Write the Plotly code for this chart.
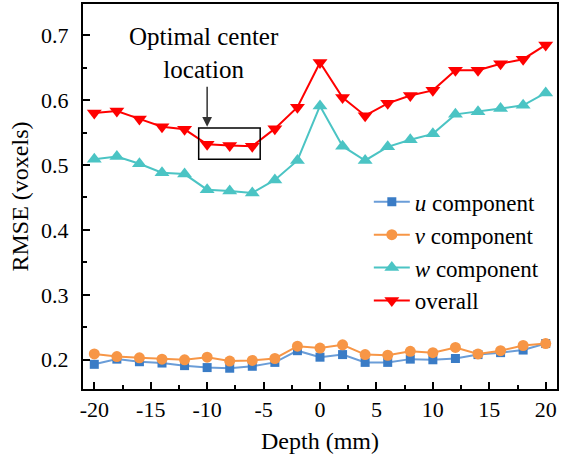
import plotly.graph_objects as go

depth = [-20, -18, -16, -14, -12, -10, -8, -6, -4, -2, 0, 2, 4, 6, 8, 10, 12, 14, 16, 18, 20]
u_comp = [0.193, 0.201, 0.197, 0.195, 0.191, 0.188, 0.187, 0.190, 0.196, 0.214, 0.204,
          0.208, 0.196, 0.196, 0.201, 0.200, 0.202, 0.208, 0.211, 0.215, 0.225]
v_comp = [0.209, 0.205, 0.203, 0.201, 0.200, 0.204, 0.198, 0.199, 0.202, 0.221, 0.218,
          0.223, 0.208, 0.207, 0.213, 0.211, 0.219, 0.209, 0.214, 0.222, 0.225]
w_comp = [0.509, 0.513, 0.502, 0.488, 0.486, 0.462, 0.460, 0.457, 0.477, 0.507, 0.591,
          0.529, 0.507, 0.528, 0.539, 0.548, 0.578, 0.582, 0.587, 0.592, 0.611]
overall = [0.580, 0.583, 0.571, 0.559, 0.555, 0.532, 0.530, 0.529, 0.556, 0.589, 0.658,
           0.604, 0.576, 0.595, 0.607, 0.615, 0.646, 0.646, 0.656, 0.663, 0.685]

FONT = "'Liberation Serif', 'Times New Roman', 'DejaVu Serif', serif"

fig = go.Figure()
fig.add_trace(go.Scatter(x=depth, y=u_comp, mode="lines+markers", name="<i>u</i> component",
                         line=dict(color="#6A9DD8", width=2),
                         marker=dict(symbol="square", size=9, color="#3A7CC6")))
fig.add_trace(go.Scatter(x=depth, y=v_comp, mode="lines+markers", name="<i>v</i> component",
                         line=dict(color="#F79646", width=2),
                         marker=dict(symbol="circle", size=11, color="#F79646")))
fig.add_trace(go.Scatter(x=depth, y=w_comp, mode="lines+markers", name="<i>w</i> component",
                         line=dict(color="#4BC4C4", width=2),
                         marker=dict(symbol="triangle-up", size=13, color="#4BC4C4")))
fig.add_trace(go.Scatter(x=depth, y=overall, mode="lines+markers", name="overall",
                         line=dict(color="#FF0000", width=2),
                         marker=dict(symbol="triangle-down", size=13, color="#FF0000")))

# rectangle around optimal region
fig.add_shape(type="rect", xref="x", yref="y", x0=-10.75, x1=-5.3, y0=0.509, y1=0.557,
              line=dict(color="black", width=1.5), fillcolor="rgba(0,0,0,0)")

fig.add_annotation(x=-10.3, y=0.672, xref="x", yref="y", text="Optimal center<br>location",
                   showarrow=False, font=dict(family=FONT, size=25, color="black"))
fig.add_annotation(x=-10, y=0.559, xref="x", yref="y", ax=-10, ay=0.623, axref="x", ayref="y",
                   text="", showarrow=True, arrowhead=2, arrowsize=1.3, arrowwidth=1.5,
                   arrowcolor="#333333")

fig.update_xaxes(range=[-21, 21], tickvals=[-20, -15, -10, -5, 0, 5, 10, 15, 20],
                 ticktext=["-20", "-15", "-10", "-5", "0", "5", "10", "15", "20"],
                 ticks="inside", ticklen=7, tickwidth=2, tickcolor="black",
                 minor=dict(dtick=2.5, tick0=0, ticks="inside", ticklen=4, tickwidth=2, tickcolor="black"),
                 showline=True, linewidth=2, linecolor="black", mirror=True,
                 showgrid=False, zeroline=False,
                 tickfont=dict(family=FONT, size=22, color="black"),
                 title=dict(text="Depth (mm)", font=dict(family=FONT, size=24, color="black"), standoff=11))
fig.update_yaxes(range=[0.155, 0.748], tickvals=[0.2, 0.3, 0.4, 0.5, 0.6, 0.7],
                 ticktext=["0.2", "0.3", "0.4", "0.5", "0.6", "0.7"],
                 ticks="inside", ticklen=7, tickwidth=2, tickcolor="black",
                 minor=dict(dtick=0.05, tick0=0, ticks="inside", ticklen=4, tickwidth=2, tickcolor="black"),
                 showline=True, linewidth=2, linecolor="black", mirror=True,
                 showgrid=False, zeroline=False, ticklabelstandoff=8,
                 tickfont=dict(family=FONT, size=22, color="black"),
                 title=dict(text="RMSE (voxels)", font=dict(family=FONT, size=24, color="black"), standoff=6))

fig.update_layout(
    width=561, height=457,
    margin=dict(l=83, r=2, t=4, b=68),
    paper_bgcolor="white", plot_bgcolor="white",
    font=dict(family=FONT, size=22, color="black"),
    showlegend=True,
    legend=dict(x=0.603, y=0.542, xanchor="left", yanchor="top", bgcolor="rgba(0,0,0,0)",
                font=dict(family=FONT, size=23, color="black"), itemwidth=36,
                tracegroupgap=0),
)

fig.write_html("out.html", config={"displayModeBar": False},
               post_script="document.body.style.margin='0';document.body.style.padding='0';")
